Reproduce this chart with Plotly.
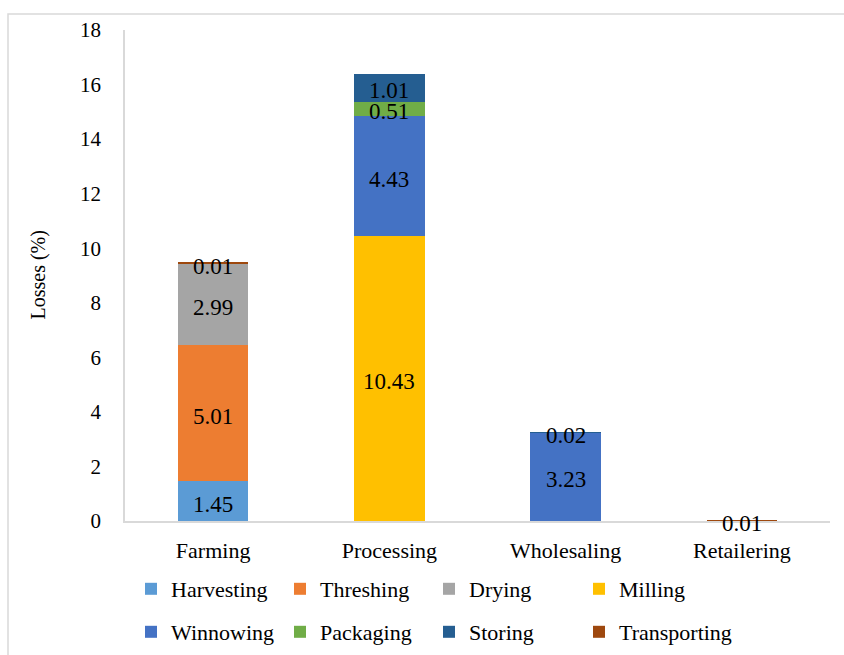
import plotly.graph_objects as go

# Post-harvest loss by supply-chain stage (%)
categories = ["Farming", "Processing", "Wholesaling", "Retailering"]

harvesting = [1.45, None, None, None]
threshing = [5.01, None, None, None]
drying = [2.99, None, None, None]
milling = [None, 10.43, None, None]
winnowing = [None, 4.43, 3.23, None]
packaging = [None, 0.51, None, None]
storing = [None, 1.01, 0.02, None]
transporting = [0.01, None, None, 0.01]

series_names = ["Harvesting", "Threshing", "Drying", "Milling",
                "Winnowing", "Packaging", "Storing", "Transporting"]
series_values = [harvesting, threshing, drying, milling,
                 winnowing, packaging, storing, transporting]
series_colors = ["#5B9BD5", "#ED7D31", "#A5A5A5", "#FFC000",
                 "#4472C4", "#70AD47", "#255E91", "#9E480E"]

FONT = "Liberation Serif"

# plot-area geometry in pixels
W, H = 844, 655
ML, MR, MT, MB = 125, 14, 30, 134
PW, PH = W - ML - MR, H - MT - MB


def px_x(px):
    return (px - ML) / PW


def px_y(py):
    return (H - MB - py) / PH


# legend grid: column left edges and row centres (pixels)
legend_cols = [131, 280, 429, 579]
legend_rows = [589, 632]

fig = go.Figure()
legend_layout = {}
for i, (name, vals, col) in enumerate(zip(series_names, series_values, series_colors)):
    lg = "legend" if i == 0 else f"legend{i + 1}"
    fig.add_trace(go.Bar(
        name=name, x=categories, y=vals, marker_color=col,
        marker_line_width=0, legend=lg, showlegend=True,
        hoverinfo="name+y",
    ))
    legend_layout[lg] = dict(
        x=px_x(legend_cols[i % 4]), y=px_y(legend_rows[i // 4]),
        xanchor="left", yanchor="middle", xref="paper", yref="paper",
        orientation="v", bgcolor="rgba(0,0,0,0)", borderwidth=0,
        font=dict(family=FONT, size=22, color="#000000"),
        itemwidth=30, visible=True,
    )

# value labels centred in each stacked segment
annotations = []
bases = [0.0] * len(categories)
for vals in series_values:
    for j, v in enumerate(vals):
        if v is None:
            continue
        annotations.append(dict(
            x=categories[j], y=bases[j] + v / 2, xref="x", yref="y",
            yshift=-3, text=f"{v:.2f}", showarrow=False,
            font=dict(family=FONT, size=23, color="#000000"),
        ))
        bases[j] += v

# y-axis title
annotations.append(dict(
    x=px_x(38), y=0.5, xref="paper", yref="paper", text="Losses (%)",
    textangle=-90, showarrow=False, xanchor="center", yanchor="middle",
    font=dict(family=FONT, size=20, color="#000000"),
))

fig.update_layout(
    width=W, height=H,
    margin=dict(l=ML, r=MR, t=MT, b=MB, autoexpand=False),
    barmode="stack", bargap=0.6,
    showlegend=True,
    plot_bgcolor="white", paper_bgcolor="white",
    font=dict(family=FONT, size=20, color="#000000"),
    annotations=annotations,
    shapes=[dict(
        type="rect", xref="paper", yref="paper",
        x0=px_x(8), y0=px_y(700), x1=px_x(900), y1=px_y(14),
        line=dict(color="#D9D9D9", width=1.5), fillcolor="rgba(0,0,0,0)",
        layer="below",
    )],
    xaxis=dict(
        showline=True, linecolor="#D9D9D9", linewidth=1.5,
        showgrid=False, ticks="", ticklabelstandoff=9,
        tickfont=dict(family=FONT, size=22, color="#000000"),
    ),
    yaxis=dict(
        range=[0, 18], dtick=2, showline=True, linecolor="#D9D9D9",
        linewidth=1.5, showgrid=False, ticks="", zeroline=False,
        ticklabelstandoff=18,
        tickfont=dict(family=FONT, size=21, color="#000000"),
    ),
    **legend_layout,
)

fig.write_html("out.html")
